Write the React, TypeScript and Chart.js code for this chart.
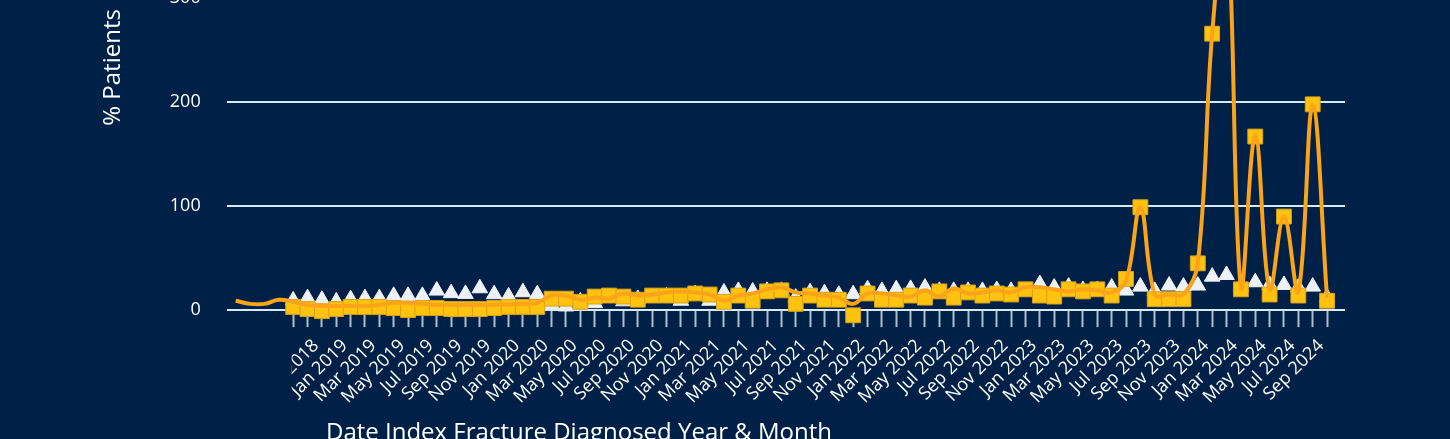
import React, { useEffect, useRef } from 'react';
import { Chart, registerables } from 'chart.js';

Chart.register(...registerables);

// Category labels (May 2018 .. Sep 2024); index = position on the x axis
const monthLabels: string[] = [
  'May 2018', 'Jun 2018', 'Jul 2018', 'Aug 2018', 'Sep 2018', 'Oct 2018', 'Nov 2018', 'Dec 2018',
  'Jan 2019', 'Feb 2019', 'Mar 2019', 'Apr 2019', 'May 2019', 'Jun 2019', 'Jul 2019', 'Aug 2019',
  'Sep 2019', 'Oct 2019', 'Nov 2019', 'Dec 2019',
  'Jan 2020', 'Feb 2020', 'Mar 2020', 'Apr 2020', 'May 2020', 'Jun 2020', 'Jul 2020', 'Aug 2020',
  'Sep 2020', 'Oct 2020', 'Nov 2020', 'Dec 2020',
  'Jan 2021', 'Feb 2021', 'Mar 2021', 'Apr 2021', 'May 2021', 'Jun 2021', 'Jul 2021', 'Aug 2021',
  'Sep 2021', 'Oct 2021', 'Nov 2021', 'Dec 2021',
  'Jan 2022', 'Feb 2022', 'Mar 2022', 'Apr 2022', 'May 2022', 'Jun 2022', 'Jul 2022', 'Aug 2022',
  'Sep 2022', 'Oct 2022', 'Nov 2022', 'Dec 2022',
  'Jan 2023', 'Feb 2023', 'Mar 2023', 'Apr 2023', 'May 2023', 'Jun 2023', 'Jul 2023', 'Aug 2023',
  'Sep 2023', 'Oct 2023', 'Nov 2023', 'Dec 2023',
  'Jan 2024', 'Feb 2024', 'Mar 2024', 'Apr 2024', 'May 2024', 'Jun 2024', 'Jul 2024', 'Aug 2024',
  'Sep 2024',
];

// Months that carry markers / axis ticks (Sep 2018 .. Sep 2024)
const markerMonths: string[] = monthLabels.slice(4);

// Smoothed orange line (May 2018 .. Sep 2024)
const lineValues: number[] = [
  9, 6, 6, 10, 8, 5, 4, 4, 4, 4, 5, 7, 7, 6, 5, 5, 5, 5, 5, 5.5,
  6, 7, 14, 14, 10, 12, 11, 16, 14, 15, 17, 18, 17, 15, 9, 14, 16, 20, 22, 17,
  16, 14, 12, 6, 16, 16, 14, 13, 19, 13, 21, 16, 17, 19, 17, 22, 22, 20, 18, 20,
  19, 17, 28, 99, 15, 15, 15, 45, 266, 380, 22, 168, 20, 90, 18, 197, 12,
];

// Orange squares (Sep 2018 .. Sep 2024)
const squareValues: number[] = [
  3, 1, -1, 1, 3, 3, 3, 2, 0, 2, 2, 1, 1, 1, 2, 3, 3, 3, 11, 11,
  8, 13, 14, 13, 10, 14, 14, 14, 16, 15, 8, 14, 9, 18, 19, 6, 14, 10, 10, -5,
  16, 10, 10, 14, 12, 18, 12, 17, 14, 16, 15, 20, 14, 13, 20, 18, 20, 14, 30, 99,
  10.5, 10.5, 10.5, 45, 266, 380, 20, 167, 15, 90, 14, 198, 9,
];

// White triangles (Sep 2018 .. Sep 2024)
const triangleValues: number[] = [
  9.3, 11.5, 9.9, 8.3, 10.5, 11.5, 11.5, 13.7, 13.7, 13.7, 18.8, 16.3, 15.6, 21, 15.3, 13.1, 17.2, 15.3, 5.7, 3.5,
  8.3, 6.7, 12.4, 8.5, 10.8, 12.4, 13.1, 9, 15.3, 9, 17, 18.5, 17.9, 18.5, 18.5, 12, 17.2, 16.3, 14.7, 15.3,
  20.1, 18.5, 20.1, 20.4, 21.7, 18.5, 18.5, 18.5, 18.5, 19.4, 18.5, 17.9, 25, 21.7, 22.6, 19.4, 19.4, 21.7, 18.8, 22.6,
  18.5, 23.6, 22.6, 23.6, 32.2, 33.8, 22.6, 26.8, 24.2, 24.2, 21.7, 22.6, 12.1,
];

const yTickValues: number[] = [0, 100, 200, 300, 400];
const Y_MAX = 467;

const BG = '#002147';
const FONT = "'Open Sans', sans-serif";
const ZERO_Y = 310; // viewport y of the 0 line
const PX_PER_UNIT = 1.0385; // vertical scale
const TITLE_CENTER = 433.5; // viewport y of the x title's middle
const CANVAS_LEFT = -187;
const CANVAS_W = 1637;
const CANVAS_H0 = 700;
const PAD_W = 282;

function makeConfig(titlePadTop: number, firstMarker: number, tickIdx: number[]): any {
  const clipLabels = {
    id: 'clipLabels',
    afterDraw(chart: any) {
      const xs = chart.scales.x;
      const ctx = chart.ctx;
      const edge = xs.getPixelForValue(firstMarker) - 1.5;
      ctx.save();
      ctx.fillStyle = BG;
      ctx.fillRect(0, xs.top + 18, edge, xs.bottom - xs.top);
      ctx.restore();
    },
  };
  return {
    type: 'line',
    data: {
      datasets: [
        {
          label: 'Line',
          data: lineValues.map((v, i) => ({ x: i, y: v })),
          yAxisID: 'y',
          borderColor: '#FBA41A',
          backgroundColor: '#FBA41A',
          borderWidth: 4,
          pointRadius: 0,
          tension: 0.4,
          clip: false,
          order: 0,
        },
        {
          label: 'Squares',
          data: squareValues.map((v, i) => ({ x: firstMarker + i, y: v })),
          yAxisID: 'y',
          showLine: false,
          pointStyle: 'rect',
          pointRadius: 10.5,
          backgroundColor: '#FFC20E',
          borderColor: '#D9A21A',
          borderWidth: 1,
          clip: false,
          order: 1,
        },
        {
          label: 'Triangles',
          data: triangleValues.map((v, i) => ({ x: firstMarker + i, y: v })),
          yAxisID: 'y',
          showLine: false,
          pointStyle: 'triangle',
          pointRadius: 9,
          backgroundColor: '#EEF2F6',
          borderColor: '#EEF2F6',
          borderWidth: 1,
          clip: false,
          order: 2,
        },
      ],
    },
    options: {
      animation: false,
      responsive: false,
      maintainAspectRatio: false,
      events: [],
      layout: { padding: { top: 20, left: 0, right: 105, bottom: 0 } },
      plugins: {
        legend: { display: false },
        tooltip: { enabled: false },
        title: {
          display: true,
          position: 'bottom',
          text: 'Date Index Fracture Diagnosed Year & Month',
          color: '#FFFFFF',
          font: { family: FONT, size: 24, weight: 'normal' },
          padding: { top: titlePadTop, bottom: 0 },
        },
      },
      scales: {
        x: {
          type: 'linear',
          min: -0.63,
          max: 77.25,
          afterBuildTicks: (scale: any) => {
            scale.ticks = tickIdx.map((v) => ({ value: v }));
          },
          ticks: {
            autoSkip: false,
            minRotation: 45,
            maxRotation: 45,
            padding: 8,
            labelOffset: -6,
            color: '#FFFFFF',
            font: { family: FONT, size: 18 },
            callback: (value: any) => {
              const i = Math.round(Number(value));
              if (i === firstMarker) return '';
              return (i - firstMarker) % 2 === 0 ? monthLabels[i] : '';
            },
          },
          grid: {
            drawOnChartArea: false,
            drawTicks: true,
            tickLength: 17,
            tickWidth: 2,
            tickColor: '#AFBDCD',
          },
          border: { display: false },
        },
        y: {
          type: 'linear',
          position: 'left',
          min: 0,
          max: Y_MAX,
          weight: 0,
          afterBuildTicks: (scale: any) => {
            scale.ticks = yTickValues.map((v) => ({ value: v }));
          },
          ticks: {
            color: '#FFFFFF',
            padding: 26,
            font: { family: FONT, size: 18 },
          },
          grid: {
            color: '#D6EAF2',
            lineWidth: 2,
            drawTicks: false,
          },
          border: { display: false },
          title: {
            display: true,
            text: '% Patients',
            color: '#FFFFFF',
            font: { family: FONT, size: 24 },
            padding: { top: 4, bottom: 16 },
          },
        },
        yPad: {
          type: 'linear',
          axis: 'y',
          position: 'left',
          weight: 10,
          display: true,
          grid: { display: false },
          border: { display: false },
          ticks: { display: false },
          afterFit: (scale: any) => {
            scale.width = PAD_W;
          },
        },
      },
    },
    plugins: [clipLabels],
  };
}

export default function App() {
  const ref = useRef<HTMLCanvasElement>(null);

  useEffect(() => {
    document.body.style.margin = '0';
    const canvas = ref.current!;
    const firstMarker = monthLabels.indexOf(markerMonths[0]);
    const tickIdx = markerMonths.map((m) => monthLabels.indexOf(m));

    canvas.width = CANVAS_W;
    canvas.height = CANVAS_H0;
    canvas.style.height = `${CANVAS_H0}px`;

    // pass 1: measure
    const probe = new Chart(canvas, makeConfig(20, firstMarker, tickIdx));
    const xAxisH = probe.scales.x.height;
    const areaH = probe.chartArea.bottom - probe.chartArea.top;
    probe.destroy();

    const padTop = Math.max(0, TITLE_CENTER - ZERO_Y - xAxisH - 14.4);
    const wantArea = Y_MAX * PX_PER_UNIT;
    const newH = Math.round(CANVAS_H0 + (wantArea - areaH) + (padTop - 20));
    canvas.width = CANVAS_W;
    canvas.height = newH;
    canvas.style.height = `${newH}px`;

    const chart = new Chart(canvas, makeConfig(padTop, firstMarker, tickIdx));
    const y0 = chart.scales.y.getPixelForValue(0);
    canvas.style.top = `${ZERO_Y - y0}px`;

    return () => chart.destroy();
  }, []);

  return (
    <div
      style={{
        position: 'fixed',
        left: 0,
        top: 0,
        width: 1450,
        height: 439,
        overflow: 'hidden',
        background: BG,
      }}
    >
      <canvas
        ref={ref}
        width={CANVAS_W}
        height={CANVAS_H0}
        style={{ position: 'absolute', left: CANVAS_LEFT, top: -196, width: CANVAS_W, height: CANVAS_H0 }}
      />
    </div>
  );
}
